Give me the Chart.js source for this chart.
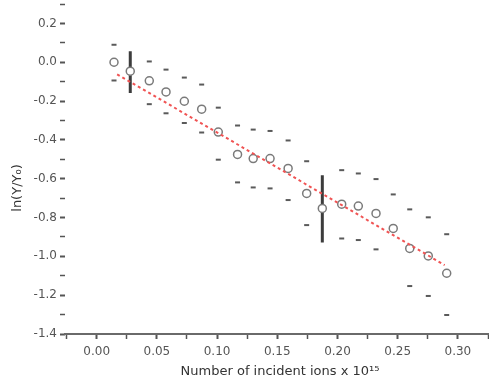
<!DOCTYPE html>
<html>
<head>
<meta charset="utf-8">
<script src="https://cdn.jsdelivr.net/npm/chart.js@4"></script>
<style>
  body { margin: 0; background: #fff; }
  canvas { display: block; }
</style>
</head>
<body>
<canvas id="yieldChart" width="489" height="383"></canvas>
<script>
// values
const ionDose = [0.0144, 0.0279, 0.0437, 0.0576, 0.0728, 0.0872, 0.101, 0.117, 0.130, 0.144,
                 0.159, 0.1744, 0.1874, 0.2035, 0.2173, 0.232, 0.2463, 0.260, 0.2754, 0.2907];
const lnYield = [0.00, -0.046, -0.096, -0.153, -0.201, -0.242, -0.360, -0.475, -0.496, -0.496,
                 -0.547, -0.676, -0.753, -0.731, -0.741, -0.779, -0.856, -0.959, -0.998, -1.087];
const errUp = [0.090, 0.103, 0.100, 0.115, 0.122, 0.127, 0.126, 0.149, 0.149, 0.142,
               0.144, 0.166, 0.171, 0.175, 0.168, 0.177, 0.175, 0.201, 0.199, 0.201];
const errDown = [0.094, 0.112, 0.120, 0.110, 0.112, 0.120, 0.142, 0.144, 0.149, 0.154,
                 0.163, 0.163, 0.175, 0.177, 0.175, 0.185, null, 0.194, 0.206, 0.215];
// points drawn with a full thick error bar
const fullBars = [1, 12];
// fitted line end points
const fitX = [0.017, 0.289];
const fitY = [-0.062, -1.045];

const yTicks = [-1.4, -1.3, -1.2, -1.1, -1.0, -0.9, -0.8, -0.7, -0.6, -0.5, -0.4, -0.3, -0.2, -0.1, 0.0, 0.1, 0.2, 0.3];
const xTicks = [-0.025, 0, 0.025, 0.05, 0.075, 0.1, 0.125, 0.15, 0.175, 0.2, 0.225, 0.25, 0.275, 0.3, 0.325];

const points = ionDose.map((x, i) => ({ x: x, y: lnYield[i] }));

const caps = [];
ionDose.forEach((x, i) => {
  if (fullBars.includes(i)) return;
  if (errUp[i] != null) caps.push({ x: x, y: lnYield[i] + errUp[i] });
  if (errDown[i] != null) caps.push({ x: x, y: lnYield[i] - errDown[i] });
});

const barSets = fullBars.map(i => ({
  type: 'line',
  data: [{ x: ionDose[i], y: lnYield[i] + errUp[i] }, { x: ionDose[i], y: lnYield[i] - errDown[i] }],
  borderColor: '#3c3c3c',
  borderWidth: 3,
  pointRadius: 0,
  order: 3
}));

const axisTitles = {
  id: 'axisTitles',
  afterDraw(chart) {
    const ctx = chart.ctx;
    ctx.save();
    ctx.fillStyle = '#333';
    ctx.font = '13px "DejaVu Sans"';
    ctx.textAlign = 'center';
    ctx.textBaseline = 'middle';
    ctx.fillText('Number of incident ions x 10\u00b9\u2075', 280, 372);
    ctx.translate(18, 188);
    ctx.rotate(-Math.PI / 2);
    ctx.fillText('ln(Y/Y\u2080)', 0, 0);
    ctx.restore();
  }
};

const isMajor = (v, step) => Math.abs(v / step - Math.round(v / step)) < 1e-6;

new Chart(document.getElementById('yieldChart'), {
  type: 'scatter',
  data: {
    datasets: [
      {
        type: 'line',
        data: fitX.map((x, i) => ({ x: x, y: fitY[i] })),
        borderColor: '#f05353',
        borderWidth: 2,
        borderDash: [3, 3],
        pointRadius: 0,
        order: 0
      },
      {
        data: points,
        pointStyle: 'circle',
        pointRadius: 4,
        borderWidth: 1.5,
        borderColor: '#7a7a7a',
        backgroundColor: '#fff',
        order: 1
      },
      {
        data: caps,
        pointStyle: 'line',
        pointRadius: 2.5,
        borderWidth: 2,
        borderColor: '#5a5a5a',
        order: 2
      },
      ...barSets
    ]
  },
  options: {
    responsive: false,
    animation: false,
    layout: { autoPadding: false, padding: { top: 4, right: 1, left: 0, bottom: 0 } },
    plugins: { legend: { display: false }, tooltip: { enabled: false } },
    scales: {
      x: {
        type: 'linear',
        min: -0.0263,
        max: 0.325,
        afterBuildTicks: s => { s.ticks = xTicks.map(v => ({ value: v })); },
        afterFit: s => { s.height = 49; s.paddingLeft = 0; s.paddingRight = 0; },
        border: { display: true, color: '#6a6a6a', width: 2 },
        grid: {
          drawOnChartArea: false,
          drawTicks: true,
          tickLength: 5,
          tickColor: '#555',
          tickWidth: c => isMajor(c.tick.value, 0.05) ? 2 : 1.5
        },
        ticks: {
          padding: 6,
          color: '#555',
          font: { family: 'DejaVu Sans', size: 12 },
          maxRotation: 0,
          autoSkip: false,
          callback: v => (isMajor(v, 0.05) && v >= 0 && v <= 0.3) ? v.toFixed(2) : ''
        }
      },
      y: {
        type: 'linear',
        min: -1.4,
        max: 0.3,
        afterBuildTicks: s => { s.ticks = yTicks.map(v => ({ value: v })); },
        afterFit: s => { s.width = 65; s.paddingTop = 0; s.paddingBottom = 0; },
        border: { display: false },
        grid: {
          drawOnChartArea: false,
          drawTicks: true,
          tickLength: 5,
          tickColor: '#555',
          tickWidth: c => isMajor(c.tick.value, 0.2) ? 2 : 1.5
        },
        ticks: {
          padding: 3,
          color: '#555',
          font: { family: 'DejaVu Sans', size: 12 },
          autoSkip: false,
          callback: v => (isMajor(v, 0.2) && v < 0.25) ? v.toFixed(1) : ''
        }
      }
    }
  },
  plugins: [axisTitles]
});
</script>
</body>
</html>
